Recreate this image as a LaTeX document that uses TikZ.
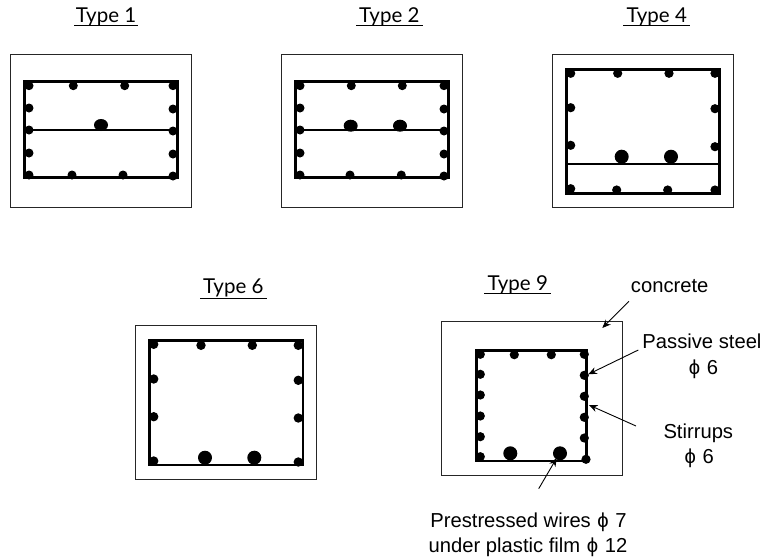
\documentclass[tikz,border=0pt]{standalone}
\usepackage{fontspec}
\setmainfont{Liberation Sans}
\newfontfamily\typefont{Lato}
\usetikzlibrary{arrows.meta}
\tikzset{
  outerbox/.style={draw=black!85,line width=1pt},
  stirrup/.style={draw=black,line width=2.9pt,line cap=rect},
  midbar/.style={draw=black,line width=2.5pt},
  typelabel/.style={anchor=base,inner sep=0pt,font=\typefont\fontsize{20.5}{24}\selectfont},
  typeline/.style={draw=black,line width=1.5pt},
  callout/.style={anchor=base,inner sep=0pt,font=\fontsize{20.2}{24}\selectfont},
  pointer/.style={draw=black,line width=0.9pt,-{Stealth[length=8.5pt,width=7pt]}}
}
\newcommand{\bardots}[2]{\foreach \px/\py in {#2} \fill (\px,\py) circle (#1);}
\newcommand{\phichar}{\hspace{1pt}\char"03D5\relax\hspace{1pt}}
\begin{document}
\begin{tikzpicture}[x=1pt,y=-1pt]
\useasboundingbox (0,0) rectangle (764,560);
% Type 1
\node[typelabel] (t1) at (106,22.7) {Type 1};
\draw[typeline] (74,25.6) -- (138,25.6);
\draw[outerbox] (10.7,54.3) rectangle (191.3,207.7);
\draw[stirrup] (24.5,81.7) rectangle (177.7,177.7);
\draw[midbar] (24.5,130) -- (177.7,130);
\bardots{4.5pt}{29/85.7,73.3/85.7,124.7/85.7,173/85.7,29/108,173/109,29/130,173/131,29/153,173/154,29/175,72/175,123/175,173/176}
\fill (101,125) ellipse (7pt and 6pt);
% Type 2
\node[typelabel] (t2) at (389.3,22.7) {Type 2};
\draw[typeline] (356,25.6) -- (422.7,25.6);
\draw[outerbox] (281.7,54.3) rectangle (462.3,207.7);
\draw[stirrup] (295.3,81.7) rectangle (448.7,177.7);
\draw[midbar] (295.3,130) -- (448.7,130);
\bardots{4.5pt}{300/85.7,351.3/85.7,402.3/85.7,444/85.7,300/108,444/109,300/130,444/131,300/153,444/154,300/175,350/175,401.3/175,444/176}
\fill (350.7,125.7) ellipse (7pt and 6pt);
\fill (400,125.7) ellipse (7pt and 6pt);
% Type 4
\node[typelabel] (t4) at (656.7,22.7) {Type 4};
\draw[typeline] (623.3,25.6) -- (690,25.6);
\draw[outerbox] (552.7,54.3) rectangle (733.3,207.7);
\draw[stirrup] (566.3,69.3) rectangle (719.7,193.3);
\draw[midbar] (566.3,164) -- (719.7,164);
\bardots{4.6pt}{570.7/73.3,617.7/73.3,669/73.3,715/73.3,570.7/107.7,715/108.7,570.7/145.3,715/146.7,570.7/188.7,616.7/190,667.7/190,715/190}
\fill (621.7,156.7) circle (7pt);
\fill (671,156.7) circle (7pt);
% Type 6
\node[typelabel] (t6) at (233.3,293.3) {Type 6};
\draw[typeline] (200,298.3) -- (266.7,298.3);
\draw[outerbox] (135.7,325.7) rectangle (316.3,479);
\draw[stirrup] (149.7,340.7) rectangle (303,465);
\bardots{4.7pt}{153.7/344.3,201/345.3,252.3/345.3,298.3/345.3,153.7/379,298.3/380.3,153.7/416.7,298.3/418,153.7/461,298.3/462}
\fill (205,457.7) circle (7pt);
\fill (254.3,457.7) circle (7pt);
% Type 9
\node[typelabel] (t9) at (517.7,290) {Type 9};
\draw[typeline] (484.3,293.3) -- (551,293.3);
\draw[outerbox] (441.7,321.7) rectangle (622.3,475);
\draw[stirrup] (476.3,350.3) rectangle (586.3,461);
\bardots{4.6pt}{480.3/354.3,514.3/354.7,551.3/354.7,584.3/354.3,480.3/374.3,584.3/375.3,480.3/395,584.3/396.3,480.3/416,584.3/417.3,480.3/436.7,584.3/438,480.3/456.7,586/459.3}
\fill (510.3,453.3) circle (7pt);
\fill (560,453.3) circle (7pt);
% Callouts
\node[callout] (concrete) at (669.7,292.7) {concrete};
\node[callout] (passive) at (702,348.3) {Passive steel};
\node[callout] (passivephi) at (703,374) {\phichar{} 6};
\node[callout] (stirrups) at (698.3,438.3) {Stirrups};
\node[callout] (stirrupphi) at (698.7,463.3) {\phichar{} 6};
\node[callout] (wires) at (528.5,527.7) {Prestressed wires \phichar{} 7};
\node[callout] (film) at (528,552.7) {under plastic film \phichar{} 12};
\coordinate (c1) at (629,301.3); \coordinate (c2) at (602.3,328);
\coordinate (p1) at (638.3,350); \coordinate (p2) at (588.3,374.3);
\coordinate (s1) at (636,426);   \coordinate (s2) at (589,405);
\coordinate (w1) at (538.7,488.7); \coordinate (w2) at (556.7,458);
\draw[pointer] (c1) -- (c2);
\draw[pointer] (p1) -- (p2);
\draw[pointer] (s1) -- (s2);
\draw[pointer] (w1) -- (w2);
\end{tikzpicture}
\end{document}
